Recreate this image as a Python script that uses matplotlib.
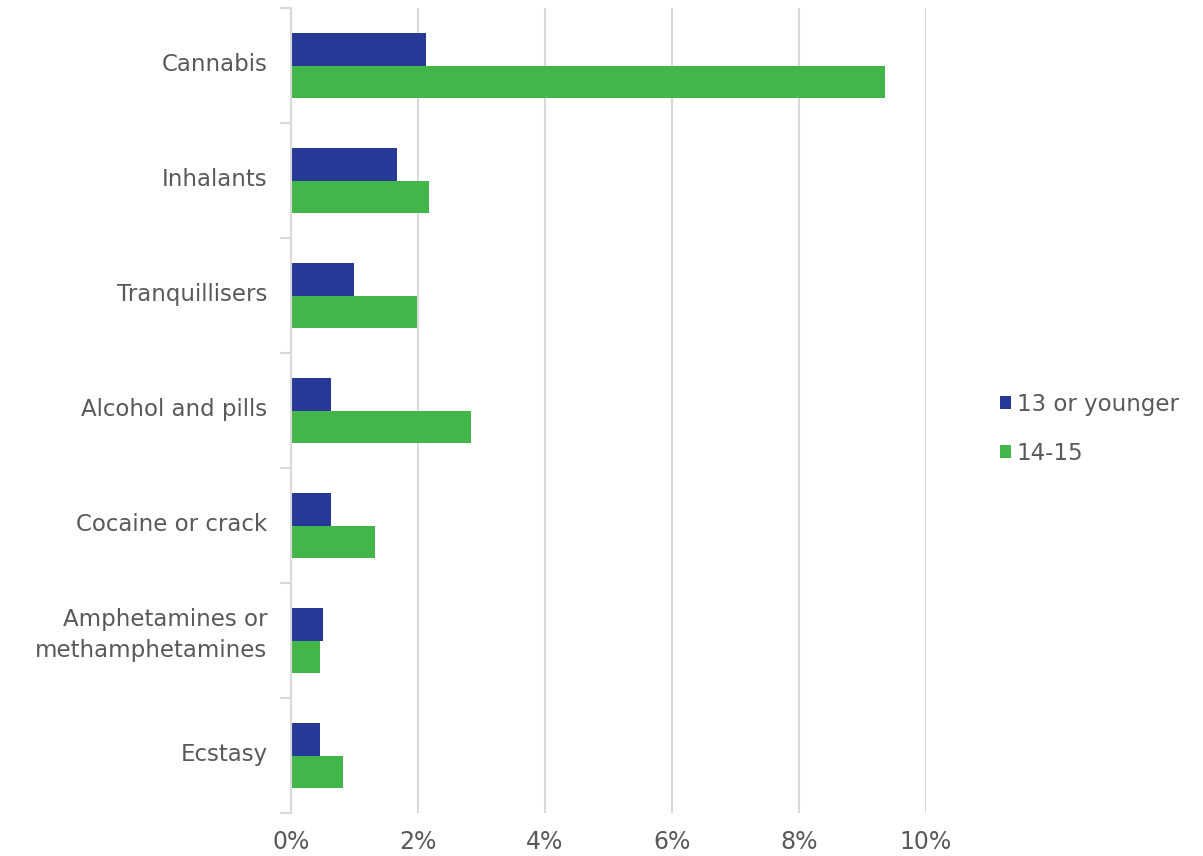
import matplotlib.pyplot as plt
import matplotlib.transforms as mtransforms
import numpy as np

categories = ["Cannabis", "Inhalants", "Tranquillisers", "Alcohol and pills",
              "Cocaine or crack", "Amphetamines or\nmethamphetamines", "Ecstasy"]
young = [2.13, 1.67, 0.99, 0.63, 0.63, 0.50, 0.46]
older = [9.35, 2.17, 1.98, 2.83, 1.32, 0.46, 0.82]
series_names = ["13 or younger", "14-15"]
xticks = [0, 2, 4, 6, 8, 10]

blue = "#283a97"
green = "#42b649"
text_gray = "#595959"
grid_gray = "#d9d9d9"

plt.rcParams['font.family'] = ['DejaVu Sans']

fig = plt.figure(figsize=(12.03, 8.56), dpi=100)
ax = fig.add_axes([291 / 1203, 43 / 856, (926 - 291) / 1203, (813 - 8) / 856])

n = len(categories)
pos = np.arange(n)
h = 0.28
ax.barh(pos - h / 2, young, height=h, color=blue, label=series_names[0])
ax.barh(pos + h / 2, older, height=h, color=green, label=series_names[1])

ax.set_ylim(n - 0.5, -0.5)
ax.set_xlim(0, 10)

ax.set_xticks(xticks)
ax.set_xticklabels([f"{t}%" for t in xticks], fontsize=17, color=text_gray)
ax.tick_params(axis='x', length=0, pad=12)
ax.xaxis.grid(True, color=grid_gray, linewidth=1.5)
ax.set_axisbelow(True)

# category labels centred, tick marks on the boundaries
ax.set_yticks(pos)
ax.set_yticklabels(categories, fontsize=16.5, color=text_gray, ha='right',
                   multialignment='right', linespacing=1.45)
ax.tick_params(axis='y', which='major', length=0, pad=17)
for lbl in ax.get_yticklabels():
    up = 12 if "\n" in lbl.get_text() else 4
    shift = mtransforms.ScaledTranslation(0, up / 100, fig.dpi_scale_trans)
    lbl.set_transform(lbl.get_transform() + shift)
ax.set_yticks(np.arange(n + 1) - 0.5, minor=True)
ax.tick_params(axis='y', which='minor', length=8, color=grid_gray, width=1.5)

for side in ['top', 'right', 'bottom']:
    ax.spines[side].set_visible(False)
ax.spines['left'].set_color(grid_gray)
ax.spines['left'].set_linewidth(1.5)

leg = fig.legend(loc='upper left', bbox_to_anchor=(979 / 1203, 1 - 372 / 856),
                 frameon=False, fontsize=16.5, handlelength=0.5, handleheight=0.5,
                 handletextpad=0.25, labelspacing=1.15)
for t in leg.get_texts():
    t.set_color(text_gray)

fig.savefig("out.png", dpi=100)
